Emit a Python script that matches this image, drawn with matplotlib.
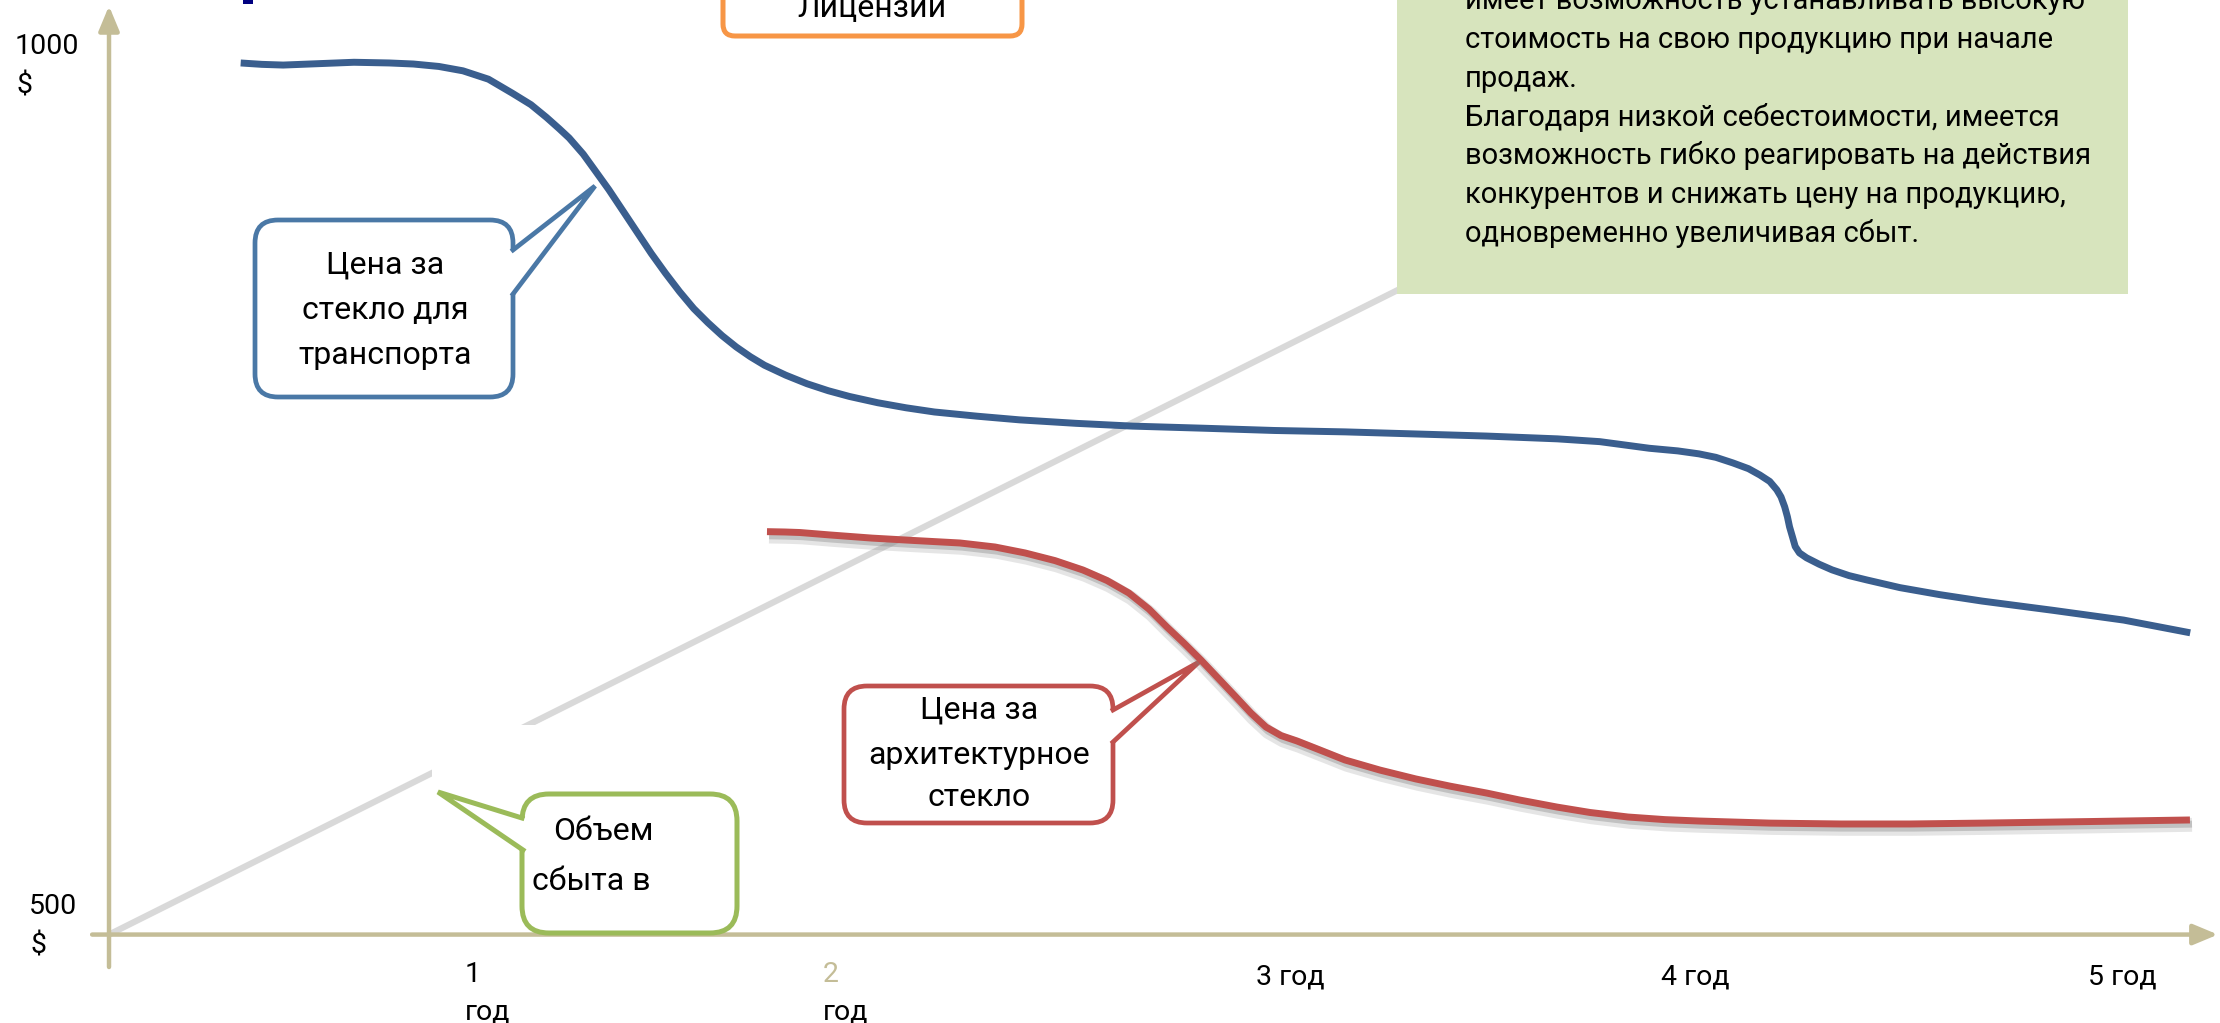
import matplotlib
matplotlib.use("Agg")
import matplotlib.pyplot as plt
from matplotlib import patheffects as pe
from matplotlib import transforms as mtransforms
from matplotlib.lines import Line2D
from matplotlib.patches import FancyBboxPatch, Polygon, Rectangle

# --- data -------------------------------------------------------------------
# price for transport glass, $ (x = years from start)
transport_x = [0.3196, 0.3712, 0.4227, 0.5086, 0.5945, 0.6805, 0.7389, 0.8007,
               0.8591, 0.9210, 0.9794, 1.0241, 1.0619, 1.0928, 1.1169, 1.1512,
               1.1787, 1.2131, 1.2475, 1.2818, 1.3162, 1.3506, 1.3849, 1.4193,
               1.4537, 1.4880, 1.5224, 1.5567, 1.5911, 1.6427, 1.6942, 1.7458,
               1.7973, 1.8660, 1.9348, 2.0035, 2.1066, 2.2097, 2.3471, 2.4846,
               2.6564, 2.8283, 3.0001, 3.1719, 3.3437, 3.5156, 3.6186, 3.7389,
               3.8077, 3.8592, 3.9004, 3.9417, 3.9795, 4.0070, 4.0310, 4.0482,
               4.0585, 4.0674, 4.0740, 4.0791, 4.0860, 4.0929, 4.1032, 4.1204,
               4.1513, 4.1822, 4.2235, 4.2668, 4.3472, 4.4434, 4.5465, 4.7183,
               4.8902, 5.0517]
transport_price = [999.7, 998.9, 998.5, 999.3, 1000.1, 999.7, 999.1, 997.7,
                   995.2, 990.4, 982.3, 975.8, 968.5, 962.0, 956.7, 947.4,
                   938.4, 927.1, 914.9, 902.7, 890.5, 879.2, 868.6, 858.9,
                   850.8, 843.4, 836.9, 831.3, 826.4, 820.7, 815.8, 811.8,
                   808.5, 804.9, 802.0, 799.6, 797.2, 795.1, 793.1, 791.5,
                   790.3, 789.0, 788.2, 787.0, 785.8, 784.2, 782.6, 778.8,
                   777.3, 775.6, 773.6, 770.4, 767.1, 763.5, 759.8, 755.0,
                   750.9, 745.2, 739.5, 733.8, 728.2, 722.5, 718.8, 716.0,
                   712.3, 709.1, 705.8, 703.3, 698.9, 694.9, 691.2, 685.9,
                   680.3, 673.0]

# price for architectural glass, $
arch_x = [1.5971, 1.6408, 1.6772, 1.7500, 1.8519, 1.9563, 2.0655, 2.1505,
          2.2233, 2.2961, 2.3641, 2.4223, 2.4757, 2.5243, 2.5680, 2.6092,
          2.6505, 2.6942, 2.7354, 2.7718, 2.8083, 2.8447, 2.8835, 2.9393,
          3.0000, 3.0850, 3.1723, 3.2549, 3.3447, 3.4248, 3.5146, 3.5947,
          3.6869, 3.7767, 3.8592, 4.0316, 4.2039, 4.3714, 4.5461, 4.8083,
          5.0510]
arch_price = [731.0, 730.8, 730.5, 729.1, 727.3, 725.9, 724.5, 722.2, 718.8,
              714.4, 709.0, 703.0, 695.8, 686.6, 676.3, 667.1, 657.4, 646.5,
              636.2, 627.0, 619.0, 614.1, 611.0, 605.8, 600.1, 594.3, 589.2,
              585.1, 581.1, 577.1, 573.1, 570.0, 567.4, 565.9, 565.1, 563.9,
              563.4, 563.4, 563.9, 564.8, 565.7]

# sales volume (straight growth line)
sales_x = [0.0, 3.2]
sales_y = [500.0, 878.0]

year_nums = ["1", "2", "3", "4", "5"]
year_x = [0.864, 1.733, 2.784, 3.767, 4.803]
price_labels = ["1000", "500"]

transport_label = ["Цена за", "стекло для", "транспорта"]
arch_label = ["Цена за", "архитектурное", "стекло"]
sales_label = ["Объем", "сбыта в"]
license_label = "Лицензии"
note_lines = [
    "имеет возможность устанавливать высокую",
    "стоимость на свою продукцию при начале",
    "продаж.",
    "Благодаря низкой себестоимости, имеется",
    "возможность гибко реагировать на действия",
    "конкурентов и снижать цену на продукцию,",
    "одновременно увеличивая сбыт.",
]

# --- style ------------------------------------------------------------------
W, H = 2220, 1023
FONT = ["Roboto", "DejaVu Sans"]
AXIS = "#c4bd97"
BLUE = "#3a5e8e"
BLUE_EDGE = "#4a78a6"
RED = "#c0504d"
GREEN = "#9bbb59"
ORANGE = "#f79646"
NOTE_BG = "#d7e4bd"

plt.rcParams["font.family"] = FONT

fig = plt.figure(figsize=(W / 100, H / 100), dpi=100)
ax = fig.add_axes([0, 0, 1, 1])
ax.set_xlim(-0.2646, 5.124)
ax.set_ylim(449.3, 1035.8)
ax.axis("off")

# pixel layout coords (origin top-left) for boxes and labels
pix = mtransforms.Affine2D().scale(1 / W, -1 / H).translate(0, 1) + fig.transFigure
xdata_ypix = mtransforms.blended_transform_factory(ax.transData, pix)

# axes arrows
arrow = dict(arrowstyle="-|>,head_length=0.6,head_width=0.25", color=AXIS,
             lw=3.2, mutation_scale=25, shrinkA=0, shrinkB=0)
ax.annotate("", xy=(0, 1032.4), xytext=(0, 481.4), arrowprops=arrow, zorder=2)
ax.annotate("", xy=(5.119, 500), xytext=(-0.041, 500), arrowprops=arrow, zorder=2)

# sales line, partly hidden behind a blank box
ax.plot(sales_x, sales_y, color="#d9d9d9", lw=4.5, solid_capstyle="butt", zorder=1)
ax.add_patch(Rectangle((432, 725), 300, 62, fc="white", ec="none",
                       transform=pix, zorder=3))

# price curves
ax.plot(transport_x, transport_price, color=BLUE, lw=5,
        solid_joinstyle="round", solid_capstyle="butt", zorder=8)
ax.plot(arch_x, arch_price, color=RED, lw=5, solid_joinstyle="round",
        solid_capstyle="butt", zorder=8,
        path_effects=[pe.SimpleLineShadow(offset=(1.5, -3.5), shadow_color="#7f7f7f",
                                          alpha=0.2, linewidth=10),
                      pe.SimpleLineShadow(offset=(1.5, -3), shadow_color="#7f7f7f",
                                          alpha=0.35),
                      pe.Normal()])

# axis labels
for lbl, (lx, ly) in zip(price_labels, [(15, 43), (29, 903)]):
    ax.text(lx, ly, lbl, transform=pix, fontsize=20.5, ha="left",
            va="center_baseline")
    ax.text(lx + 1, ly + 40, "$", transform=pix, fontsize=20.5, ha="left",
            va="center_baseline")

for i, (num, xv) in enumerate(zip(year_nums, year_x)):
    if i < 2:
        ax.text(xv, 971, num, transform=xdata_ypix, fontsize=20.5, ha="left",
                va="center_baseline", color=AXIS if num == "2" else "black")
        ax.text(xv, 1009, "год", transform=xdata_ypix, fontsize=20.5,
                ha="left", va="center_baseline")
    else:
        ax.text(xv, 974, f"{num} год", transform=xdata_ypix, fontsize=20.5,
                ha="left", va="center_baseline")


def callout(box, tail, color, lw, rounding, side):
    x0, y0, x1, y1 = box
    ax.add_patch(FancyBboxPatch((x0, y0), x1 - x0, y1 - y0,
                                boxstyle=f"round,pad=0,rounding_size={rounding}",
                                fc="white", ec=color, lw=lw, transform=pix,
                                zorder=5))
    b1, tip, b2 = tail
    inset = 14 if side == "left" else -14
    ax.add_patch(Polygon([b1, tip, b2, (b2[0] + inset, b2[1]),
                          (b1[0] + inset, b1[1])],
                         closed=True, fc="white", ec="none", transform=pix,
                         zorder=6))
    ax.add_line(Line2D([b1[0], tip[0], b2[0]], [b1[1], tip[1], b2[1]],
                       color=color, lw=lw, solid_joinstyle="miter",
                       transform=pix, zorder=7))


callout((255, 220, 513, 397), ((513, 250), (595, 186), (513, 294)),
        BLUE_EDGE, 3.4, 23, "right")
for line, ly in zip(transport_label, [262, 308, 352]):
    ax.text(385, ly, line, transform=pix, fontsize=23, ha="center",
            va="center_baseline", zorder=9)

callout((844, 686, 1113, 823), ((1113, 710), (1199, 662), (1113, 742)),
        RED, 3.4, 23, "right")
for line, ly in zip(arch_label, [707, 752, 795]):
    ax.text(979, ly, line, transform=pix, fontsize=23, ha="center",
            va="center_baseline", zorder=9)

callout((522, 794, 737, 933), ((522, 818), (438, 792), (523, 850)),
        GREEN, 3.6, 27, "left")
for line, (lx, ly) in zip(sales_label, [(553, 828), (532, 878)]):
    ax.text(lx, ly, line, transform=pix, fontsize=23, ha="left",
            va="center_baseline", zorder=9)

# licence box, cut by the top edge
ax.add_patch(FancyBboxPatch((723, -40), 299, 76,
                            boxstyle="round,pad=0,rounding_size=12",
                            fc="white", ec=ORANGE, lw=3.6, transform=pix,
                            zorder=5))
ax.text(872, 17, license_label, transform=pix, fontsize=23, ha="center",
        va="baseline", zorder=9)

# title fragment at the top
ax.add_patch(Rectangle((243, 0), 10, 4, fc="#000080", ec="none", transform=pix,
                       zorder=5))

# note box
ax.add_patch(Rectangle((1397, -10), 731, 304, fc=NOTE_BG, ec="none",
                       transform=pix, zorder=4))
for i, line in enumerate(note_lines):
    ax.text(1465, 9.2 + 38.8 * i, line, transform=pix, fontsize=21,
            ha="left", va="baseline", zorder=9)

fig.savefig("out.png", dpi=100, facecolor="white")
